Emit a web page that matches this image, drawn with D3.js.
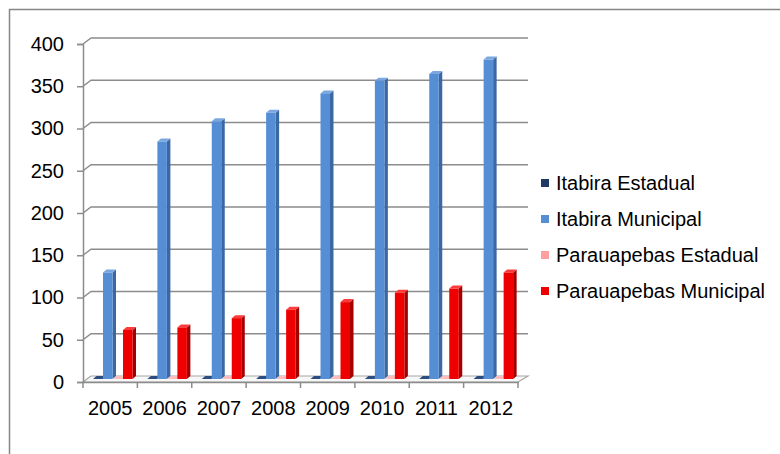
<!DOCTYPE html>
<html>
<head>
<meta charset="utf-8">
<script src="https://cdn.jsdelivr.net/npm/d3@7"></script>
<style>
  body { margin: 0; background: #fff; }
  text { font-family: "Liberation Sans", Arial, sans-serif; fill: #000; }
</style>
</head>
<body>
<div id="chart"></div>
<script>
// data
const years = ["2005", "2006", "2007", "2008", "2009", "2010", "2011", "2012"];
const seriesNames = ["Itabira Estadual", "Itabira Municipal", "Parauapebas Estadual", "Parauapebas Municipal"];
const itabiraEstadual = [0, 0, 0, 0, 0, 0, 0, 0];
const itabiraMunicipal = [126, 281, 305, 315, 338, 353, 361, 378];
const parauapebasEstadual = [0, 0, 0, 0, 0, 0, 0, 0];
const parauapebasMunicipal = [58, 61, 72, 82, 91, 102, 107, 126];
const yTicks = [0, 50, 100, 150, 200, 250, 300, 350, 400];

const WIDTH = 780;
const HEIGHT = 454;
const DEPTH = { dx: 8, dy: -6 };     // back wall offset
const BAR_DEPTH = { dx: 3.5, dy: -3 }; // bar side / top

const colors = {
  "Itabira Estadual": { face: "#1f3a64", side: "#142745", top: "#2c4d80" },
  "Itabira Municipal": { face: "#558ed5", side: "#3b68a3", top: "#7aa7e0" },
  "Parauapebas Estadual": { face: "#ff9f9f", side: "#d98282", top: "#ffbcbc" },
  "Parauapebas Municipal": { face: "#ee0000", side: "#a30000", top: "#ff3a3a" },
};

const valuesBySeries = [itabiraEstadual, itabiraMunicipal, parauapebasEstadual, parauapebasMunicipal];

const svg = d3
  .select("#chart")
  .append("svg")
  .attr("width", WIDTH)
  .attr("height", HEIGHT);

// outer frame (continues past the picture edge)
svg
  .append("rect")
  .attr("x", 9.5)
  .attr("y", 9.5)
  .attr("width", 900)
  .attr("height", 900)
  .attr("fill", "none")
  .attr("stroke", "#868686")
  .attr("stroke-width", 1.5);

// scales
const x = d3.scaleBand().domain(years).range([83, 518]);
const xInner = d3.scaleBand().domain(seriesNames).range([10, 50]);
const y = d3.scaleLinear().domain([0, 400]).range([382, 44]);
const barBase = -3; // bars sit a bit behind the front edge

// floor
const floorLeft = x.range()[0];
const floorRight = x.range()[1];
svg
  .append("path")
  .attr("d", `M${floorLeft},${y(0)} L${floorLeft + DEPTH.dx},${y(0) + DEPTH.dy} L${floorRight + DEPTH.dx + 2},${y(0) + DEPTH.dy} L${floorRight},${y(0)} Z`)
  .attr("fill", "#f7f7f7")
  .attr("stroke", "#a6a6a6")
  .attr("stroke-width", 1.2);

// gridlines on the back wall
const grid = svg.append("g").attr("class", "grid");
grid
  .selectAll("path")
  .data(yTicks.filter((d) => d > 0))
  .enter()
  .append("path")
  .attr("d", (d) => `M${floorLeft},${y(d)} L${floorLeft + DEPTH.dx},${y(d) + DEPTH.dy} L${floorRight + DEPTH.dx + 2},${y(d) + DEPTH.dy}`)
  .attr("fill", "none")
  .attr("stroke", "#8c8c8c")
  .attr("stroke-width", 1.5);

// y axis
const yAxis = svg
  .append("g")
  .attr("class", "y-axis")
  .attr("transform", `translate(${floorLeft}, 0)`)
  .call(d3.axisLeft(y).tickValues(yTicks).tickSize(6).tickPadding(13));
yAxis.select(".domain").attr("stroke", "#8c8c8c").attr("stroke-width", 1.5);
yAxis.selectAll(".tick line").attr("stroke", "#8c8c8c").attr("stroke-width", 1.5);
yAxis.selectAll("text").style("font-size", "20px").attr("fill", "#000");

// bars
const barGroups = svg
  .selectAll("g.year")
  .data(years)
  .enter()
  .append("g")
  .attr("class", "year");

barGroups.each(function (year, i) {
  const g = d3.select(this);
  seriesNames.forEach((name, s) => {
    const v = valuesBySeries[s][i];
    const x0 = x(year) + xInner(name);
    const w = xInner.bandwidth() - 0.5;
    const yb = y(0) + barBase;
    const yt = y(v) + barBase;
    const c = colors[name];
    // side
    g.append("path")
      .attr("d", `M${x0 + w},${yb} L${x0 + w + BAR_DEPTH.dx},${yb + BAR_DEPTH.dy} L${x0 + w + BAR_DEPTH.dx},${yt + BAR_DEPTH.dy} L${x0 + w},${yt} Z`)
      .attr("fill", c.side);
    // top
    g.append("path")
      .attr("d", `M${x0},${yt} L${x0 + BAR_DEPTH.dx},${yt + BAR_DEPTH.dy} L${x0 + w + BAR_DEPTH.dx},${yt + BAR_DEPTH.dy} L${x0 + w},${yt} Z`)
      .attr("fill", c.top);
    // front
    if (v > 0) {
      g.append("rect")
        .attr("x", x0)
        .attr("y", yt)
        .attr("width", w)
        .attr("height", yb - yt)
        .attr("fill", c.face);
    }
  });
});

// x axis
const xAxis = svg
  .append("g")
  .attr("class", "x-axis")
  .attr("transform", `translate(0, ${y(0)})`)
  .call(d3.axisBottom(x).tickSize(0).tickPadding(19));
xAxis.select(".domain").attr("stroke", "#8c8c8c").attr("stroke-width", 1.5);
xAxis.selectAll("text").style("font-size", "20px").attr("fill", "#000");
// boundary ticks between categories
xAxis
  .selectAll("line.boundary")
  .data(d3.range(years.length + 1))
  .enter()
  .append("line")
  .attr("class", "boundary")
  .attr("x1", (d) => floorLeft + d * x.bandwidth())
  .attr("x2", (d) => floorLeft + d * x.bandwidth())
  .attr("y1", 0)
  .attr("y2", 6)
  .attr("stroke", "#8c8c8c")
  .attr("stroke-width", 1.5);

// legend
const legend = svg
  .append("g")
  .attr("class", "legend")
  .selectAll("g")
  .data(seriesNames)
  .enter()
  .append("g")
  .attr("transform", (d, i) => `translate(541, ${183 + i * 36})`);

legend
  .append("rect")
  .attr("x", 0)
  .attr("y", -4)
  .attr("width", 8)
  .attr("height", 8)
  .attr("fill", (d) => colors[d].face);

legend
  .append("text")
  .attr("x", 15)
  .attr("y", 0)
  .attr("dy", "0.36em")
  .style("font-size", "20px")
  .text((d) => d);
</script>
</body>
</html>
